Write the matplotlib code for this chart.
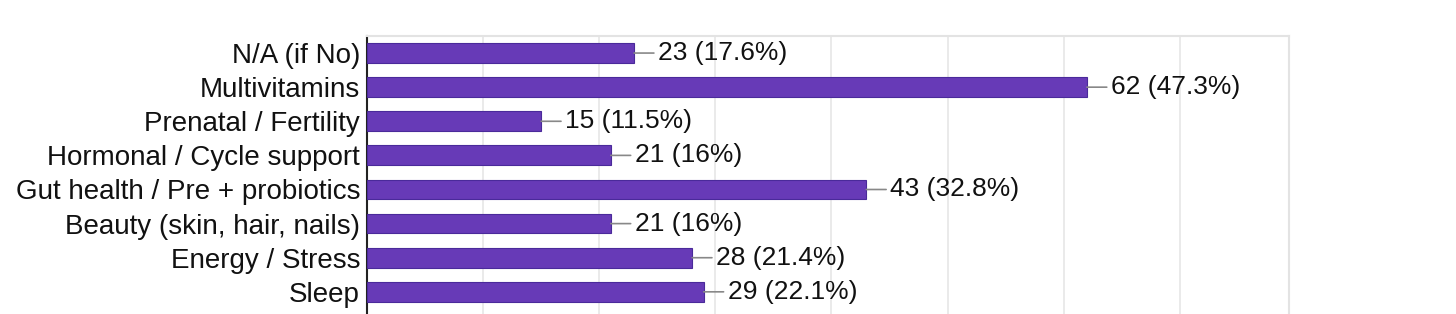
import matplotlib.pyplot as plt

# Survey answers (top to bottom) and counts
categories = ['N/A (if No)', 'Multivitamins', 'Prenatal / Fertility', 'Hormonal / Cycle support',
              'Gut health / Pre + probiotics', 'Beauty (skin, hair, nails)', 'Energy / Stress', 'Sleep']
counts = [23, 62, 15, 21, 43, 21, 28, 29]
percents = ['17.6%', '47.3%', '11.5%', '16%', '32.8%', '16%', '21.4%', '22.1%']
grid_ticks = [10, 20, 30, 40, 50, 60, 70]

plt.rcParams['font.family'] = ['Liberation Sans', 'DejaVu Sans']

fig = plt.figure(figsize=(14.56, 3.14), dpi=100)
ax = fig.add_axes([367 / 1456, 0, (1289 - 367) / 1456, 1 - 36 / 314])

ypos = list(range(len(categories)))
ax.barh(ypos, counts, height=0.58, color='#673ab7', edgecolor='#4a2a9a', linewidth=0.8, zorder=3)

for y, c, p in zip(ypos, counts, percents):
    ax.annotate(f'{c} ({p})', xy=(c, y), xytext=(24, 0), textcoords='offset pixels',
                ha='left', va='center', fontsize=19, color='#111111',
                arrowprops=dict(arrowstyle='-', color='#888888', lw=1.2,
                                shrinkA=1, shrinkB=0))

ax.set_xlim(0, 79.4)
ax.set_ylim(7.65, -0.5)
ax.set_yticks(ypos)
ax.set_yticklabels(categories, fontsize=20, color='#111111')
ax.tick_params(axis='y', length=0, pad=5)
ax.set_xticks(grid_ticks)
ax.tick_params(axis='x', length=0, labelbottom=False)
ax.grid(axis='x', color='#e6e6e6', lw=1.2, zorder=0)

for side in ['top', 'right']:
    ax.spines[side].set_color('#e3e3e3')
    ax.spines[side].set_linewidth(1.5)
ax.spines['bottom'].set_visible(False)
ax.spines['left'].set_color('#222222')
ax.spines['left'].set_linewidth(1.5)

fig.savefig('out.png', dpi=100)
